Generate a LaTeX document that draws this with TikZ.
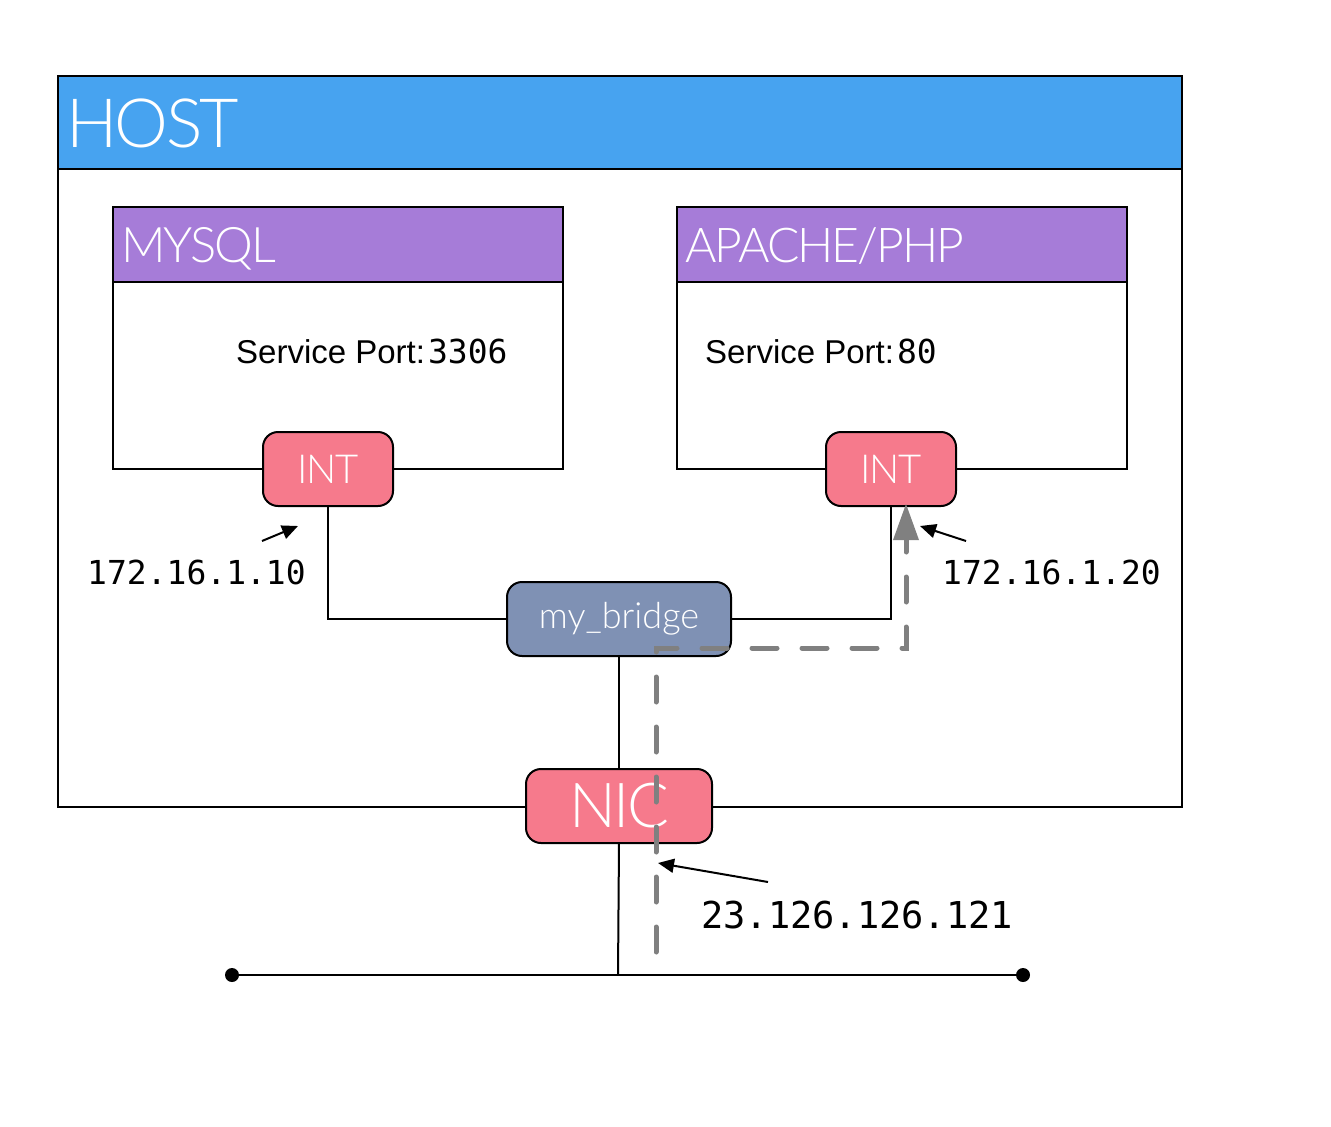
\documentclass[tikz,border=0pt]{standalone}
\usepackage{fontspec}
\setsansfont{Liberation Sans}
\setmonofont{DejaVu Sans Mono}
\newfontfamily\lightfont{Lato Light}[LetterSpace=-4]
\newfontfamily\lightwide{Lato Light}
\usetikzlibrary{arrows.meta}
\definecolor{hostblue}{RGB}{71,163,240}
\definecolor{ctpurple}{RGB}{166,124,216}
\definecolor{intpink}{RGB}{246,122,140}
\definecolor{brgray}{RGB}{127,145,180}
\definecolor{flowgray}{RGB}{128,128,128}
\tikzset{
  box/.style={draw=black,line width=2pt,inner sep=0pt,anchor=north west},
  port/.style={draw=black,line width=2pt,rounded corners=15pt,fill=intpink,text=white,inner sep=0pt,minimum width=130pt,minimum height=74pt,font=\lightfont\fontsize{40}{40}\selectfont},
  wire/.style={line width=2pt},
  flow/.style={draw=flowgray,line width=5pt,line cap=round,dash pattern=on 25pt off 25pt},
  lbl/.style={font=\ttfamily\fontsize{33}{33}\selectfont,anchor=base west,inner sep=0pt},
  ptr/.style={line width=2pt,-{Triangle[width=14pt,length=16pt]}}
}
\begin{document}
\begin{tikzpicture}[x=1pt,y=-1pt]
\useasboundingbox (0,0) rectangle (1331,1127);
% host
\node[box,minimum width=1124pt,minimum height=731pt] (host) at (57,75) {};
\node[box,fill=hostblue,minimum width=1124pt,minimum height=93pt] (hosthdr) at (57,75) {};
\node[text=white,anchor=base west,inner sep=0pt,font=\lightfont\fontsize{68}{68}\selectfont] (hosttxt) at (66,147) {HOST};
% containers
\node[box,minimum width=450pt,minimum height=262pt] (c1) at (112,206) {};
\node[box,fill=ctpurple,minimum width=450pt,minimum height=75pt] (c1hdr) at (112,206) {};
\node[text=white,anchor=base west,inner sep=0pt,font=\lightfont\fontsize{49}{49}\selectfont] (c1txt) at (121,262) {MYSQL};
\node[box,minimum width=450pt,minimum height=262pt] (c2) at (676,206) {};
\node[box,fill=ctpurple,minimum width=450pt,minimum height=75pt] (c2hdr) at (676,206) {};
\node[text=white,anchor=base west,inner sep=0pt,font=\lightfont\fontsize{48}{48}\selectfont] (c2txt) at (685,262) {APACHE/PHP};
\node[anchor=base west,inner sep=0pt] (sp1) at (236,363) {\sffamily\fontsize{33}{33}\selectfont Service Port:\hspace{3pt}\ttfamily\fontsize{33}{33}\selectfont 3306};
\node[anchor=base west,inner sep=0pt] (sp2) at (705,363) {\sffamily\fontsize{33}{33}\selectfont Service Port:\hspace{3pt}\ttfamily\fontsize{33}{33}\selectfont 80};
% coordinates
\coordinate (busL) at (232,975);
\coordinate (busR) at (1023,975);
\coordinate (busM) at (618,975);
\coordinate (fstart) at (656,952);
\coordinate (fc1) at (656,648);
\coordinate (fc2) at (906,648);
\coordinate (fend) at (906,507);
% node positions
\coordinate (int1) at (328,469);
\coordinate (int2) at (891,469);
\coordinate (br) at (619,619);
\coordinate (nic) at (619,806);
% wires
\draw[wire] (328,506) |- (507,619);
\draw[wire] (731,619) -| (891,506);
\draw[wire] (619,656) -- (619,769);
\draw[wire] (619,843) -- (busM);
\draw[wire] (busL) -- (busR);
\fill (busL) circle (7pt);
\fill (busR) circle (7pt);
% nodes on top of wires
\node[port] (nint1) at (int1) {INT};
\node[port] (nint2) at (int2) {INT};
\node[port,fill=brgray,minimum width=224pt,font=\lightwide\fontsize{36}{36}\selectfont] (nbr) at (br) {my\_bridge};
\node[port,minimum width=186pt,font=\lightfont\fontsize{62}{62}\selectfont] (nnic) at (nic) {NIC};
% flow
\draw[flow] (fstart) -- (fc1) -- (fc2) -- (fend);
\fill[flowgray] (906,504) -- (893,540) -- (919,540) -- cycle;
% labels
\node[lbl] (ip1) at (87,584) {172.16.1.10};
\node[lbl] (ip2) at (942,584) {172.16.1.20};
\node[lbl,font=\ttfamily\fontsize{37}{37}\selectfont] (ip3) at (701,928) {23.126.126.121};
\coordinate (a1s) at (262,541); \coordinate (a1e) at (298,526);
\coordinate (a2s) at (966,541); \coordinate (a2e) at (920,526);
\coordinate (a3s) at (768,882); \coordinate (a3e) at (658,863);
\draw[ptr] (a1s) -- (a1e);
\draw[ptr] (a2s) -- (a2e);
\draw[ptr] (a3s) -- (a3e);
\end{tikzpicture}
\end{document}
